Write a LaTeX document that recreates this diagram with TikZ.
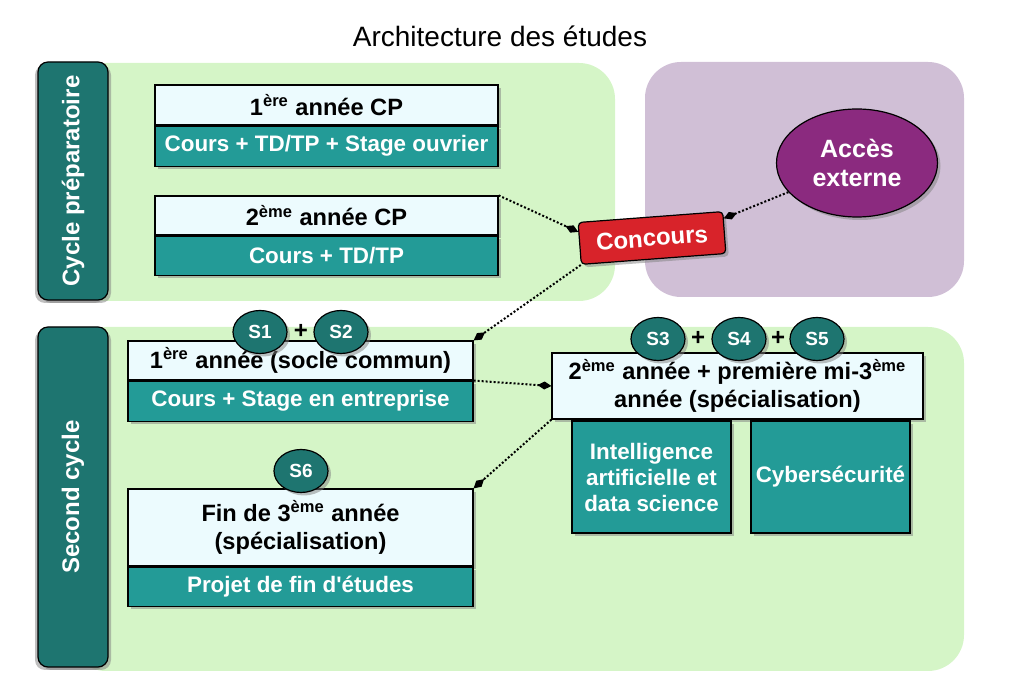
\documentclass[tikz,border=0pt]{standalone}
\usepackage{fontspec}
\setmainfont{Liberation Sans}[Ligatures=TeXOff]
\usetikzlibrary{positioning, shapes.geometric, arrows.meta, shadows}
\definecolor{greenbg}{RGB}{213,245,199}
\definecolor{purplebg}{RGB}{208,191,214}
\definecolor{darkteal}{RGB}{30,117,112}
\definecolor{bodyteal}{RGB}{35,155,151}
\definecolor{headfill}{RGB}{236,251,254}
\definecolor{concoursred}{RGB}{216,35,42}
\definecolor{accespurple}{RGB}{139,42,127}
\tikzset{
    title/.style={font=\fontsize{14}{16}\selectfont},
    base/.style={draw, rectangle, align=center, inner sep=2pt, line width=0.6pt,
        drop shadow={shadow xshift=1.5pt, shadow yshift=-1.5pt, fill=black!50, opacity=0.5}},
    head/.style={base, fill=headfill, font=\bfseries\fontsize{11.8}{14}\selectfont},
    body/.style={base, fill=bodyteal, text=white, font=\bfseries\fontsize{11.2}{13}\selectfont},
    track/.style={base, fill=bodyteal, text=white, font=\bfseries\fontsize{11.2}{13}\selectfont, minimum width=79.5pt, minimum height=56pt},
    bar/.style={base, rounded corners=5pt, fill=darkteal, text=white, rotate=90, minimum height=35pt,
        font=\bfseries\fontsize{12}{14}\selectfont,
        drop shadow={shadow xshift=-1.5pt, shadow yshift=-1.5pt, fill=black!50, opacity=0.5}},
    sem/.style={base, ellipse, fill=darkteal, text=white, minimum width=27pt, minimum height=21.5pt, inner sep=0pt,
        font=\bfseries\fontsize{9.5}{11}\selectfont},
    plus/.style={font=\bfseries\fontsize{12}{14}\selectfont, inner sep=0pt},
    link/.style={line width=1pt, dash pattern=on 1pt off 1pt, -{Diamond[length=7pt,width=4pt]}}
}

\begin{document}
\begin{tikzpicture}[x=0.5pt, y=-0.5pt]
\useasboundingbox (0,0) rectangle (1023,694);
\node[title] (title) at (500,36) {Architecture des études};

% panels
\fill[greenbg, rounded corners=18pt] (70,63) rectangle (615,301);
\fill[purplebg, rounded corners=18pt] (645,62) rectangle (964,297);
\fill[greenbg, rounded corners=18pt] (70,327) rectangle (964,671);

\node[bar, minimum width=119pt] (cpbar) at (73,181) {Cycle préparatoire};
\node[bar, minimum width=170pt] (scbar) at (73,497) {Second cycle};

% cycle preparatoire
\node[head, minimum width=171.5pt, minimum height=20pt] (cp1) at (326.5,105) {1\textsuperscript{ère} année CP};
\node[body, minimum width=171.5pt, minimum height=20pt, below=0pt of cp1] (cp1b) {Cours + TD/TP + Stage ouvrier};
\node[head, minimum width=171.5pt, minimum height=19.5pt] (cp2) at (326.5,215.5) {2\textsuperscript{ème} année CP};
\node[body, minimum width=171.5pt, minimum height=19.5pt, below=0pt of cp2] (cp2b) {Cours + TD/TP};

\node[ellipse, draw, line width=0.6pt, fill=accespurple, text=white, minimum width=80.5pt, minimum height=54pt,
    font=\bfseries\fontsize{12.5}{14.5}\selectfont, align=center,
    drop shadow={shadow xshift=1.5pt, shadow yshift=-1.5pt, fill=black!50, opacity=0.5}] (acces) at (857,163) {Accès\\externe};
\node[base, rounded corners=2pt, fill=concoursred, text=white, rotate=4.3, minimum width=72.5pt, minimum height=21pt,
    font=\bfseries\fontsize{12}{14}\selectfont] (concours) at (652,238) {Concours};

% second cycle
\node[head, minimum width=172.5pt, minimum height=19.5pt] (socle) at (300.5,360.5) {1\textsuperscript{ère} année (socle commun)};
\node[body, minimum width=172.5pt, minimum height=20pt, below=0pt of socle] (socleb) {Cours + Stage en entreprise};
\node[head, minimum width=172.5pt, minimum height=38.5pt] (fin) at (300.5,527.5) {Fin de 3\textsuperscript{ème} année\\(spécialisation)};
\node[body, minimum width=172.5pt, minimum height=19.5pt, below=0pt of fin] (finb) {Projet de fin d'études};
\node[head, minimum width=185.5pt, minimum height=33pt] (spec) at (737.5,386) {2\textsuperscript{ème} année + première mi-3\textsuperscript{ème}\\année (spécialisation)};
\node[track] (ia) at (651.5,477) {Intelligence\\artificielle et\\data science};
\node[track] (cyber) at (830.5,477) {Cybersécurité};

% semestres
\node[sem] (s1) at (260,332) {S1};
\node[sem] (s2) at (341,332) {S2};
\node[plus] (p12) at (301,331) {+};
\node[sem] (s3) at (658,339) {S3};
\node[sem] (s4) at (739,339) {S4};
\node[sem] (s5) at (817,339) {S5};
\node[plus] (p34) at (698,338) {+};
\node[plus] (p45) at (778,338) {+};
\node[sem] (s6) at (301,471) {S6};

% liens
\draw[link] (cp2.north east) -- (concours.171);
\draw[link] (acces.203) -- (concours.11);
\draw[link] (concours.south west) -- (socle.north east);
\draw[link] (socle.south east) -- (spec.west);
\draw[link] (spec.south west) -- (fin.north east);
\end{tikzpicture}
\end{document}
